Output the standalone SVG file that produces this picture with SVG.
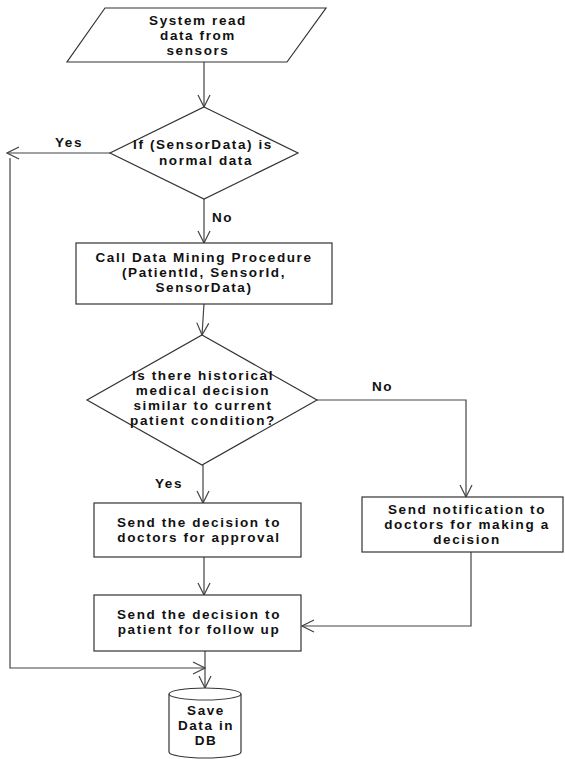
<svg xmlns="http://www.w3.org/2000/svg" width="565" height="759" viewBox="0 0 565 759">
<style>
.s{fill:#fff;stroke:#333;stroke-width:1.2}
.c{fill:none;stroke:#444;stroke-width:1.2}
text{font-family:"Liberation Sans",Arial,sans-serif;font-weight:bold;font-size:13.5px;letter-spacing:1.6px;fill:#111}
.m{text-anchor:middle}
</style>
<defs>
<marker id="a" markerUnits="userSpaceOnUse" markerWidth="14" markerHeight="14" viewBox="0 0 14 14" refX="13" refY="7" orient="auto">
<path d="M1,1 L13,7 L1,13" fill="none" stroke="#444" stroke-width="1.2"/>
</marker>
</defs>
<rect width="565" height="759" fill="#fff"/>
<g id="connectors">
<line class="c" x1="204" y1="62" x2="204" y2="107" marker-end="url(#a)"/>
<line class="c" x1="110" y1="153" x2="7" y2="153" marker-end="url(#a)"/>
<line class="c" x1="204" y1="199" x2="204" y2="243" marker-end="url(#a)"/>
<line class="c" x1="204" y1="304" x2="202" y2="335" marker-end="url(#a)"/>
<polyline class="c" points="317,400 466,400 466,497" marker-end="url(#a)"/>
<line class="c" x1="203" y1="465" x2="203" y2="503" marker-end="url(#a)"/>
<line class="c" x1="204" y1="557" x2="204" y2="595" marker-end="url(#a)"/>
<polyline class="c" points="471,552 471,626 302,626" marker-end="url(#a)"/>
<polyline class="c" points="10,158 10,668 205,668" marker-end="url(#a)"/>
<line class="c" x1="205" y1="651" x2="205" y2="688" marker-end="url(#a)"/>
<text x="55" y="147">Yes</text>
<text x="212" y="222">No</text>
<text x="372" y="391">No</text>
<text x="155" y="488">Yes</text>
</g>
<g id="n1">
<polygon class="s" points="105,8 326,8 287,62 67,62"/>
<text class="m" x="198" y="25">System read</text>
<text class="m" x="198" y="40">data from</text>
<text class="m" x="198" y="55">sensors</text>
</g>
<g id="n2">
<polygon class="s" points="204,107 298,153 204,199 110,153"/>
<text class="m" x="203" y="149">If (SensorData) is</text>
<text class="m" x="206" y="165">normal data</text>
</g>
<g id="n3">
<rect class="s" x="76" y="243" width="256" height="61"/>
<text class="m" x="204" y="262">Call Data Mining Procedure</text>
<text class="m" x="204" y="277">(PatientId, SensorId,</text>
<text class="m" x="204" y="292">SensorData)</text>
</g>
<g id="n4">
<polygon class="s" points="202,335 317,400 202,465 87,400"/>
<text class="m" x="203" y="380">Is there historical</text>
<text class="m" x="203" y="395">medical decision</text>
<text class="m" x="203" y="410">similar to current</text>
<text class="m" x="203" y="425">patient condition?</text>
</g>
<g id="n5">
<rect class="s" x="94" y="503" width="207" height="54"/>
<text class="m" x="199" y="527">Send the decision to</text>
<text class="m" x="199" y="542">doctors for approval</text>
</g>
<g id="n6">
<rect class="s" x="362" y="497" width="201" height="55"/>
<text class="m" x="467" y="514">Send notification to</text>
<text class="m" x="467" y="529">doctors for making a</text>
<text class="m" x="467" y="544">decision</text>
</g>
<g id="n7">
<rect class="s" x="94" y="595" width="207" height="56"/>
<text class="m" x="199" y="619">Send the decision to</text>
<text class="m" x="199" y="634">patient for follow up</text>
</g>
<g id="n8">
<path class="s" d="M169,694 A36,6 0 0 1 241,694 L241,752 A36,6 0 0 1 169,752 Z"/>
<path class="c" d="M169,694 A36,6 0 0 0 241,694"/>
<text class="m" x="206" y="715">Save</text>
<text class="m" x="206" y="730">Data in</text>
<text class="m" x="206" y="745">DB</text>
</g>
</svg>
